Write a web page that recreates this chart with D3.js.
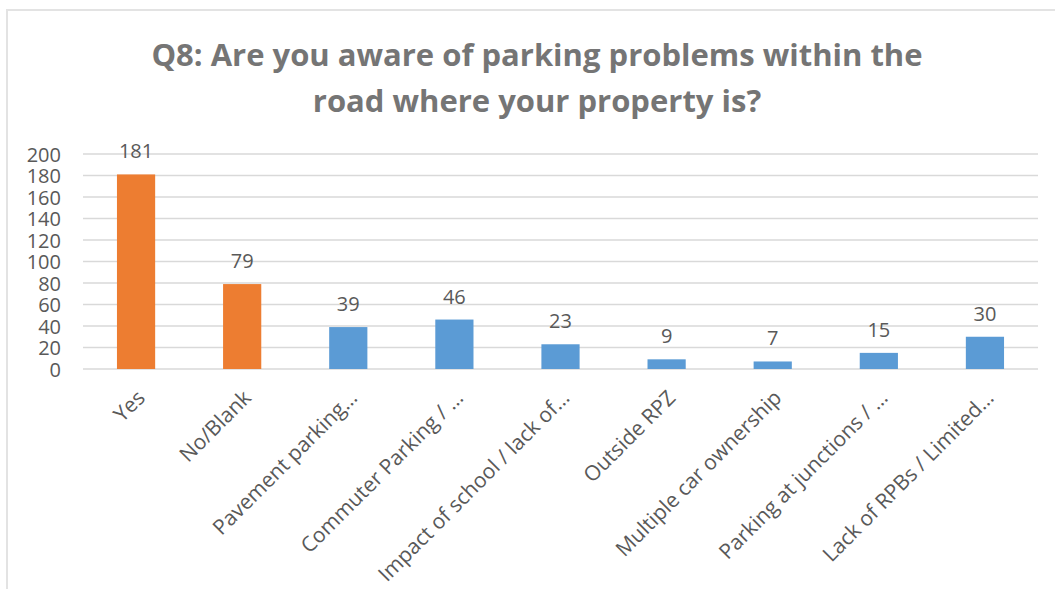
<!DOCTYPE html>
<html><head><meta charset="utf-8">
<script src="https://cdn.jsdelivr.net/npm/d3@7"></script>
<style>html,body{margin:0;padding:0;background:#fff;}svg{display:block;}</style>
</head><body>
<svg id="chart" width="1055" height="589"></svg>
<script>
const categories = ["Yes","No/Blank","Pavement parking…","Commuter Parking / …","Impact of school / lack of…","Outside RPZ","Multiple car ownership","Parking at junctions / …","Lack of RPBs / Limited…"];
const values = [181,79,39,46,23,9,7,15,30];
const barColors = ["#ED7D31","#ED7D31","#5B9BD5","#5B9BD5","#5B9BD5","#5B9BD5","#5B9BD5","#5B9BD5","#5B9BD5"];
const yTicks = [0,20,40,60,80,100,120,140,160,180,200];
const titleLines = ["Q8: Are you aware of parking problems within the","road where your property is?"];

const svg = d3.select("#chart");
const m = {left:83, right:1038, top:154, bottom:369};
const font = "'Open Sans', sans-serif";

// frame
svg.append("rect").attr("x",7).attr("y",10).attr("width",1100).attr("height",700)
  .attr("fill","none").attr("stroke","#e3e3e3").attr("stroke-width",2);

const x = d3.scaleBand().domain(categories).range([m.left,m.right]).paddingInner(0.64).paddingOuter(0.32);
const y = d3.scaleLinear().domain([0,200]).range([m.bottom,m.top]);

// gridlines
svg.append("g").selectAll("line").data(yTicks).join("line")
  .attr("x1",m.left).attr("x2",m.right)
  .attr("y1",d=>y(d)).attr("y2",d=>y(d))
  .attr("stroke","#d9d9d9").attr("stroke-width",1.3);

// y axis
const yAxis = svg.append("g").attr("transform",`translate(${m.left-14},0)`)
  .call(d3.axisLeft(y).tickValues(yTicks).tickSize(0).tickPadding(8));
yAxis.select(".domain").remove();
yAxis.selectAll("text").attr("fill","#595959").attr("dy","0.36em")
  .style("font-family",font).style("font-size","20px");

// bars
svg.append("g").selectAll("rect").data(values).join("rect")
  .attr("x",(d,i)=>x(categories[i])).attr("width",x.bandwidth())
  .attr("y",d=>y(d)).attr("height",d=>y(0)-y(d))
  .attr("fill",(d,i)=>barColors[i]);

// value labels
svg.append("g").selectAll("text").data(values).join("text")
  .attr("x",(d,i)=>x(categories[i])+x.bandwidth()/2)
  .attr("y",d=>y(d)-16)
  .attr("text-anchor","middle").attr("fill","#595959")
  .style("font-family",font).style("font-size","20px")
  .text(d=>d);

// x axis labels
const xAxis = svg.append("g").attr("transform",`translate(0,${m.bottom})`)
  .call(d3.axisBottom(x).tickSize(0).tickPadding(0));
xAxis.select(".domain").remove();
xAxis.selectAll("text")
  .attr("text-anchor","end")
  .attr("transform","translate(5,25) rotate(-45)")
  .attr("dy","0.35em").attr("y",0)
  .attr("fill","#595959")
  .style("font-family",font).style("font-size","21px");

// title
svg.append("g").selectAll("text").data(titleLines).join("text")
  .attr("x",537).attr("y",(d,i)=>66+i*46)
  .attr("text-anchor","middle").attr("fill","#757575")
  .style("font-family",font)
  .style("font-weight","bold").style("font-size","31px")
  .text(d=>d);
</script>
</body></html>
